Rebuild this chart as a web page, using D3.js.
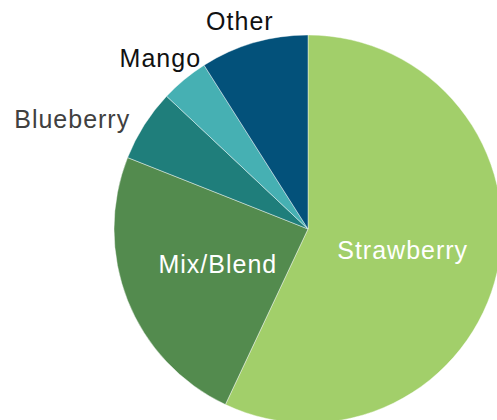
<!DOCTYPE html>
<html>
<head>
<meta charset="utf-8">
<script src="https://cdn.jsdelivr.net/npm/d3@7"></script>
<style>
  body { margin: 0; background: #fff; }
  text { font-family: "Liberation Sans", Arial, sans-serif; }
</style>
</head>
<body>
<div id="chart-area"></div>
<script>
// flavour shares (percent), clockwise from 12 o'clock
var categories = ["Strawberry", "Mix/Blend", "Blueberry", "Mango", "Other"]
var values = [57, 24, 6, 4, 9]

var colors = ["#a2cf6a", "#538b4e", "#1f7e7b", "#46b0b3", "#03517a"]

// label styling: inside labels sit on the centroid, outside ones are nudged off the rim
var labelInside = [true, true, false, false, false]
var labelColor = ["#fff", "#fff", "#404040", "#111", "#111"]
var labelAnchor = ["middle", "middle", "end", "middle", "middle"]
var labelNudge = [[0, 0], [0, 0], [-14, 3], [-24, -13], [-14, -13]]

var width = 497
var height = 420
var radius = 194
var cx = 308, cy = 229

var svg = d3.select("#chart-area")
	.append("svg")
	.attr("width", width)
	.attr("height", height)

var g = svg.append("g")
	.attr("transform", "translate(" + cx + "," + cy + ")")

var data = categories.map(function (c, i) {
	return { name: c, value: values[i], i: i }
})

var pie = d3.pie()
	.value(function (d) { return d.value })
	.sort(null)

var arc = d3.arc()
	.innerRadius(0)
	.outerRadius(radius)

var arcs = pie(data)

g.selectAll("path")
	.data(arcs)
	.enter()
	.append("path")
	.attr("d", arc)
	.attr("fill", function (d) { return colors[d.data.i] })
	.attr("stroke", "rgba(255,255,255,0.6)")
	.attr("stroke-width", 0.7)

g.selectAll("text.lbl")
	.data(arcs)
	.enter()
	.append("text")
	.attr("class", "lbl")
	.attr("transform", function (d) {
		var i = d.data.i
		var p
		if (labelInside[i]) {
			p = arc.centroid(d)
		} else {
			var a = (d.startAngle + d.endAngle) / 2
			p = [Math.sin(a) * radius + labelNudge[i][0], -Math.cos(a) * radius + labelNudge[i][1]]
		}
		return "translate(" + p[0] + "," + p[1] + ")"
	})
	.attr("dy", function (d) { return labelInside[d.data.i] ? "0.35em" : "0" })
	.attr("text-anchor", function (d) { return labelAnchor[d.data.i] })
	.attr("fill", function (d) { return labelColor[d.data.i] })
	.style("font-size", "25px")
	.style("letter-spacing", "1px")
	.text(function (d) { return d.data.name })
</script>
</body>
</html>
